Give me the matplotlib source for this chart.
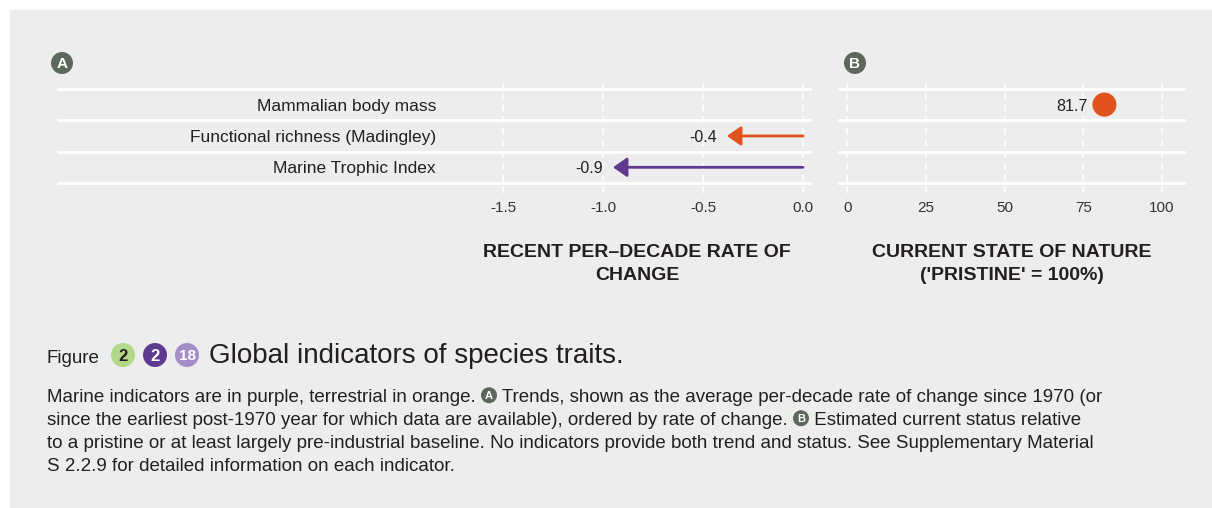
import numpy as np
import matplotlib.pyplot as plt
from matplotlib.patches import Circle, Rectangle

indicators = ["Mammalian body mass", "Functional richness (Madingley)", "Marine Trophic Index"]
trend = [np.nan, -0.38, -0.95]
status = [81.7, np.nan, np.nan]
realm = ["terrestrial", "terrestrial", "marine"]
trend_ticks = [-1.5, -1.0, -0.5, 0.0]
status_ticks = [0, 25, 50, 75, 100]

colors = {"terrestrial": "#e0531f", "marine": "#5e3b8f"}
BG = "#ededed"
TXT = "#231f20"
BADGE = "#5d685c"

plt.rcParams['font.family'] = ['Liberation Sans', 'DejaVu Sans']

W, H = 1212, 508
fig = plt.figure(figsize=(W / 100, H / 100), dpi=100, facecolor="white")
fig.patches.append(Rectangle((10 / W, 0), 1, 1 - 10 / H, transform=fig.transFigure,
                             color=BG, zorder=-5))


def fx(x):
    return x / W


def fy(y):
    return 1 - y / H


def badge(x, y, r, fc, label, tc="white", size=10):
    c = Circle((x / 100, (H - y) / 100), r / 100, transform=fig.dpi_scale_trans,
               fc=fc, ec="none", zorder=2)
    fig.patches.append(c)
    fig.text(fx(x), fy(y), label, ha="center", va="center_baseline", color=tc,
             fontsize=size, fontweight="bold", zorder=3)


def style_axes(ax, ticks, xlim):
    ax.set_facecolor("none")
    ax.set_xlim(*xlim)
    ax.set_ylim(2.82, -0.69)
    ax.set_xticks(ticks)
    ax.set_yticks([])
    for s in ax.spines.values():
        s.set_visible(False)
    ax.tick_params(axis="x", length=0, pad=5.5, labelsize=11, labelcolor="#333333")
    for t in ticks:
        ax.axvline(t, color="white", lw=1.2, ls=(0, (4, 3)), zorder=1)
    for yb in [-0.5, 0.5, 1.5, 2.5]:
        ax.axhline(yb, color="white", lw=2, zorder=1)


# panel A: trends
axA = fig.add_axes([fx(57), fy(193), (812 - 57) / W, 110 / H])
style_axes(axA, trend_ticks, (-3.73, 0.045))
axA.set_xticklabels([f"{t:.1f}" for t in trend_ticks])
for i, name in enumerate(indicators):
    axA.text(-1.835, i, name, ha="right", va="center_baseline", fontsize=12.5, color=TXT)
    if not np.isnan(trend[i]):
        c = colors[realm[i]]
        axA.annotate("", xy=(trend[i], i), xytext=(0, i),
                     arrowprops=dict(arrowstyle="-|>,head_length=0.6,head_width=0.42",
                                     color=c, lw=2, mutation_scale=14,
                                     shrinkA=0, shrinkB=0), zorder=3)
        axA.annotate(f"{trend[i]:.1f}", xy=(trend[i], i), xytext=(-7, 0),
                     textcoords="offset points", ha="right", va="center_baseline",
                     fontsize=11.5, color=TXT)

# panel B: status
axB = fig.add_axes([fx(838), fy(193), (1186 - 838) / W, 110 / H])
style_axes(axB, status_ticks, (-2.9, 107.6))
for i in range(len(indicators)):
    if not np.isnan(status[i]):
        axB.scatter(status[i], i, s=300, color=colors[realm[i]], edgecolors="none", zorder=3)
        axB.annotate(f"{status[i]:.1f}", xy=(status[i], i), xytext=(-12, 0),
                     textcoords="offset points", ha="right", va="center_baseline",
                     fontsize=11.5, color=TXT)

badge(62, 63, 11, BADGE, "A", size=11)
badge(855, 63, 11, BADGE, "B", size=11)

fig.text(fx(637), fy(264), "RECENT PER\u2013DECADE RATE OF\nCHANGE", ha="center", va="center",
         fontsize=14, fontweight="bold", color=TXT, linespacing=1.45)
fig.text(fx(1012), fy(264), "CURRENT STATE OF NATURE\n('PRISTINE' = 100%)", ha="center",
         va="center", fontsize=14, fontweight="bold", color=TXT, linespacing=1.45)

# caption
renderer = fig.canvas.get_renderer()


def write_line(parts, x0, yb, size, color=TXT):
    x = x0
    for p in parts:
        if isinstance(p, tuple):
            label, r, fc, tc, fs = p
            badge(x + r, yb - size * 0.36 * 1.39, r, fc, label, tc, fs)
            x += 2 * r
        else:
            t = fig.text(fx(x), fy(yb), p, ha="left", va="baseline", fontsize=size,
                         color=color)
            x += t.get_window_extent(renderer).width
    return x


write_line(["Figure"], 47, 363, 13.5)
badge(123, 355, 12, "#b2d88a", "2", TXT, 12)
badge(155, 355, 12, "#5e3b8f", "2", "white", 12)
badge(187, 355, 12, "#a58ec8", "18", "white", 11)
write_line(["Global indicators of species traits."], 209, 363, 20)

pA = ("A", 8, BADGE, "white", 8)
pB = ("B", 8, BADGE, "white", 8)
lines = [
    ["Marine indicators are in purple, terrestrial in orange. ", pA,
     " Trends, shown as the average per-decade rate of change since 1970 (or"],
    ["since the earliest post-1970 year for which data are available), ordered by rate of change. ",
     pB, " Estimated current status relative"],
    ["to a pristine or at least largely pre-industrial baseline. No indicators provide both "
     "trend and status. See Supplementary Material"],
    ["S 2.2.9 for detailed information on each indicator."],
]
for k, ln in enumerate(lines):
    write_line(ln, 47, 402 + 23 * k, 13.5)

fig.savefig("out.png", dpi=100, facecolor="white")
